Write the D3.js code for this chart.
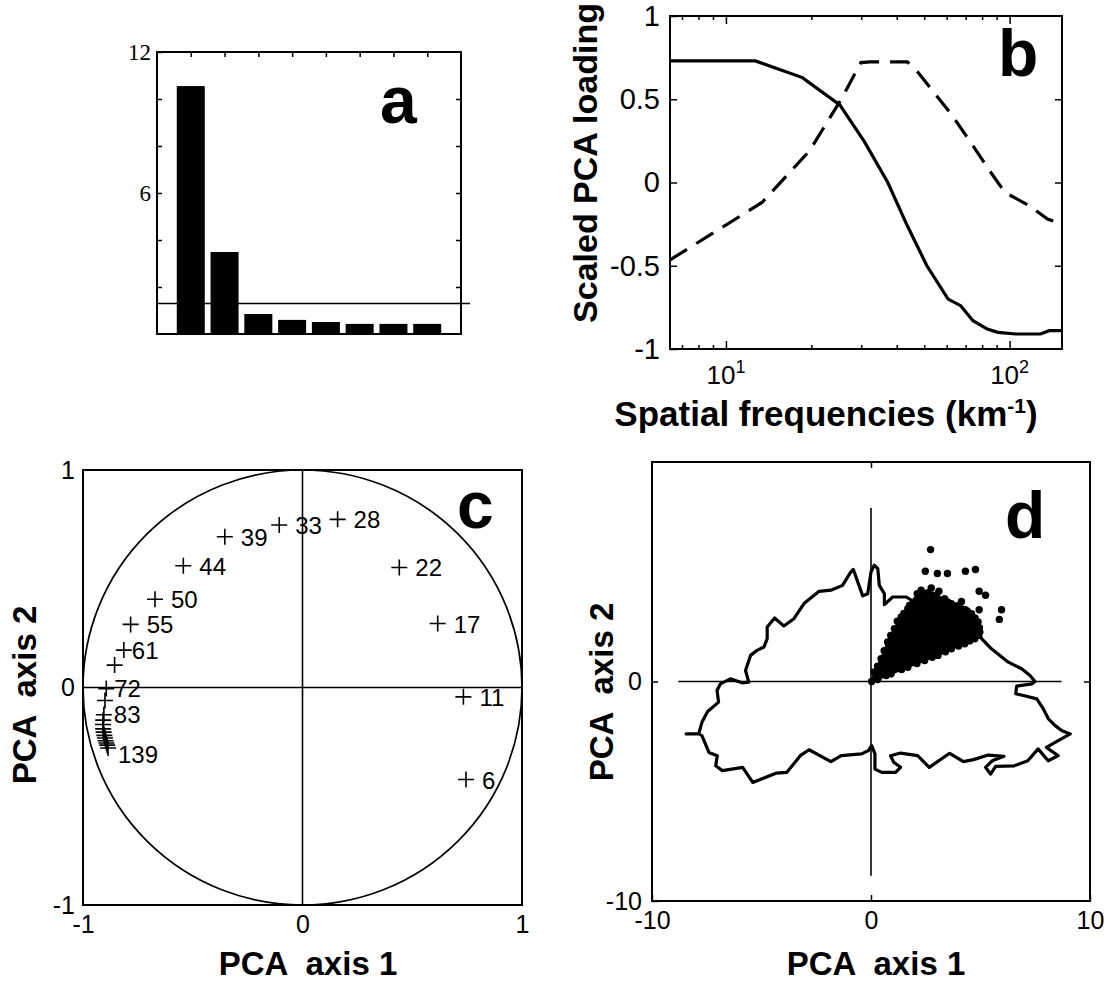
<!DOCTYPE html>
<html>
<head>
<meta charset="utf-8">
<script src="https://cdn.jsdelivr.net/npm/d3@7"></script>
<style>
  body { margin: 0; background: #fff; }
  svg { display: block; }
</style>
</head>
<body>
<script>
'use strict';

// ---- panel a: eigenvalues
const eigenvalues = [10.55, 3.49, 0.85, 0.6, 0.51, 0.43, 0.43, 0.43];
const eigenThreshold = 1.3;

// ---- panel b: PCA loadings vs spatial frequency
const freqSolid = [6.35, 12.7, 18.6, 25.2, 30.8, 37.2, 43.6, 51.1, 60.7, 67.2, 74.3, 83.4, 90.9, 105, 128.5, 138, 153];
const loadSolid = [0.73, 0.73, 0.63, 0.466, 0.244, 0.0, -0.26, -0.5, -0.7, -0.74, -0.83, -0.88, -0.9, -0.91, -0.91, -0.89, -0.89];
const freqDashed = [6.35, 13.4, 19.7, 25.5, 29.9, 32.2, 43.6, 47.6, 62.3, 74.3, 85.9, 96.3, 117.6, 136, 153];
const loadDashed = [-0.465, -0.12, 0.19, 0.5, 0.72, 0.725, 0.725, 0.66, 0.41, 0.22, 0.06, -0.06, -0.14, -0.22, -0.25];

// ---- panel c: correlation circle
const circleFreq = [6, 11, 17, 22, 28, 33, 39, 44, 50, 55, 61, 66, 72, 77, 83, 89, 94, 100, 105, 111, 116, 122, 128, 133, 139];
const circleShown = [6, 11, 17, 22, 28, 33, 39, 44, 50, 55, 61, 72, 83, 139];
const circleX = [0.745, 0.733, 0.616, 0.441, 0.16, -0.106, -0.354, -0.543, -0.672, -0.783, -0.814, -0.856, -0.894, -0.9, -0.905, -0.908, -0.909, -0.908, -0.906, -0.903, -0.9, -0.897, -0.893, -0.89, -0.886];
const circleY = [-0.423, -0.043, 0.294, 0.552, 0.773, 0.747, 0.693, 0.56, 0.406, 0.29, 0.172, 0.103, -0.005, -0.06, -0.125, -0.15, -0.17, -0.19, -0.205, -0.22, -0.232, -0.245, -0.255, -0.265, -0.278];

// ---- panel d: country outline and pixel scores
const outline = [
  [-8.44,-2.39],[-7.87,-2.39],[-7.72,-1.86],[-7.46,-1.37],[-6.96,-0.94],[-7.03,-0.41],[-6.88,-0.11],[-6.42,0.12],
  [-5.89,-0.06],[-5.58,-0.03],[-5.73,0.5],[-5.5,1.19],[-5.2,1.42],[-4.89,1.57],[-4.74,1.95],[-4.74,2.48],
  [-4.4,2.89],[-3.98,2.53],[-3.52,2.86],[-3.06,3.55],[-2.37,4.11],[-1.83,4.16],[-1.3,4.38],[-0.92,4.99],
  [-0.81,5.11],[-0.38,3.9],[-0.15,4.0],[0.0,4.99],[0.15,5.3],[0.31,5.14],[0.38,4.38],[0.61,4.0],
  [0.61,3.5],[0.99,3.85],[1.61,3.85],[1.99,3.62],[3.06,3.29],[3.98,3.09],[4.74,2.94],[5.05,1.95],
  [5.5,1.49],[6.27,0.88],[6.88,0.58],[7.26,0.27],[7.49,0.0],[7.34,-0.11],[6.65,-0.21],[6.61,-0.56],
  [6.96,-0.64],[7.57,-0.79],[7.87,-1.25],[8.1,-1.7],[8.41,-2.01],[8.72,-2.24],[9.1,-2.39],[8.55,-2.69],
  [8.01,-3.0],[8.55,-3.38],[8.09,-3.61],[7.63,-3.07],[7.16,-3.61],[6.54,-3.84],[5.69,-3.87],[5.46,-4.22],
  [5.23,-3.91],[5.54,-3.61],[6.07,-3.41],[5.35,-3.35],[4.68,-3.56],[4.22,-3.65],[3.59,-3.27],[2.66,-3.91],
  [2.13,-3.38],[1.35,-3.26],[0.89,-3.38],[1.04,-3.68],[1.35,-3.91],[1.12,-4.14],[0.49,-4.14],[0.18,-3.99],
  [0.18,-3.3],[0.03,-2.92],[-0.12,-3.15],[-0.43,-3.3],[-1.36,-3.38],[-1.83,-3.65],[-2.83,-3.11],[-3.23,-3.38],
  [-3.84,-4.14],[-4.31,-4.17],[-5.4,-4.6],[-5.86,-3.91],[-6.79,-4.06],[-7.09,-3.84],[-7.02,-3.38],[-7.4,-3.23],
  [-7.72,-2.47],[-7.84,-2.39]
];
const cloudCore = [
  [0.03,0.0],[0.15,0.43],[0.46,1.04],[0.76,1.8],[1.07,2.4],[1.38,2.94],[1.68,3.32],[2.06,3.7],
  [2.45,4.0],[2.83,3.93],[3.21,3.7],[3.67,3.55],[4.13,3.32],[4.59,3.09],[4.89,2.71],[4.97,2.25],
  [4.74,1.95],[4.28,1.72],[3.67,1.49],[3.06,1.19],[2.45,0.96],[1.68,0.65],[0.92,0.35],[0.31,0.09]
];
const cloudDots = [
  [2.72,6.01],[2.48,5.02],[3.03,4.92],[3.49,4.92],[4.31,5.02],[4.77,5.1],[4.94,4.11],[5.23,3.93],
  [5.96,3.27],[5.86,2.83],[4.94,3.27],[4.31,3.27],[4.13,3.65],[3.1,4.11],[2.75,4.26],[2.29,4.16],
  [2.11,4.0],[1.76,3.47],[3.36,3.77],[3.82,3.39],[1.2,2.75],[1.5,3.1],[1.9,3.55],[2.3,3.9],
  [2.6,4.05],[3.0,3.85],[3.5,3.62],[3.95,3.45],[4.4,3.2],[4.75,2.9],[4.95,2.45],[4.9,2.1],
  [4.5,1.85],[4.0,1.62],[3.4,1.35],[2.8,1.1],[2.1,0.82],[1.4,0.55],[0.7,0.27],[0.3,0.7],
  [0.6,1.4],[0.9,2.1]
];

const SANS = '"Liberation Sans", Arial, Helvetica, sans-serif';
const SERIF = '"Liberation Serif", "Times New Roman", serif';
const plain = d => String(d);   // keeps the ASCII hyphen of the original

const svg = d3.select('body').append('svg')
    .attr('width', 1117)
    .attr('height', 987);

function frame(x, y) {
    let xr = x.range(), yr = y.range();
    svg.append('rect')
        .attr('x', xr[0]).attr('y', yr[1])
        .attr('width', xr[1] - xr[0]).attr('height', yr[0] - yr[1])
        .attr('fill', 'none').attr('stroke', '#000').attr('stroke-width', 2);
}

function addAxis(axis, tx, ty, font, size) {
    let g = svg.append('g')
        .attr('transform', 'translate(' + tx + ',' + ty + ')')
        .call(axis);
    g.select('.domain').remove();
    g.selectAll('line').attr('stroke', '#000').attr('stroke-width', 1.5);
    g.selectAll('text').attr('font-family', font).attr('font-size', size).attr('fill', '#000');
    return g;
}

function panelLetter(t, x, y) {
    svg.append('text').attr('x', x).attr('y', y).text(t)
        .attr('font-family', SANS).attr('font-weight', 'bold').attr('font-size', 66);
}

function axisTitle(t, x, y, rotate) {
    let txt = svg.append('text')
        .attr('font-family', SANS).attr('font-weight', 'bold').attr('font-size', 33)
        .attr('text-anchor', 'middle')
        .style('white-space', 'pre');
    if (rotate) txt.attr('transform', 'translate(' + x + ',' + y + ') rotate(-90)');
    else txt.attr('x', x).attr('y', y);
    txt.text(t);
    return txt;
}

// =========== a
let xA = d3.scaleLinear().domain([0, 9]).range([157, 461]);
let yA = d3.scaleLinear().domain([0, 12]).range([334, 52]);

svg.append('g').selectAll('rect')
    .data(eigenvalues).enter()
    .append('rect')
    .attr('x', (d, i) => xA(i + 1) - 14)
    .attr('width', 28)
    .attr('y', d => yA(d))
    .attr('height', d => yA(0) - yA(d))
    .attr('fill', '#000');

addAxis(d3.axisLeft(yA).tickValues([2, 4, 6, 8, 10, 12]).tickSize(-5).tickPadding(6)
    .tickFormat(d => (d === 6 || d === 12) ? d : ''), 157, 0, SERIF, 23);
addAxis(d3.axisRight(yA).tickValues([2, 4, 6, 8, 10]).tickSize(-5).tickFormat(''), 461, 0, SERIF, 20);
addAxis(d3.axisTop(xA).tickValues(d3.range(1, 9)).tickSize(-5).tickFormat(''), 0, 52, SERIF, 20);

svg.append('line')
    .attr('x1', xA(0)).attr('x2', xA(0) + 313)
    .attr('y1', yA(eigenThreshold)).attr('y2', yA(eigenThreshold))
    .attr('stroke', '#000').attr('stroke-width', 1.5);
frame(xA, yA);
panelLetter('a', 380, 123);

// =========== b
let xB = d3.scaleLog().domain([6.35, 153]).range([670, 1062]);
let yB = d3.scaleLinear().domain([-1, 1]).range([349, 16]);
let minor = [7, 8, 9, 20, 30, 40, 50, 60, 70, 80, 90];

addAxis(d3.axisLeft(yB).tickValues([-1, -0.5, 0, 0.5, 1]).tickSize(-7).tickPadding(10)
    .tickFormat(plain), 670, 0, SANS, 29);
addAxis(d3.axisRight(yB).tickValues([-0.5, 0, 0.5]).tickSize(-7).tickFormat(''), 1062, 0, SANS, 20);
addAxis(d3.axisBottom(xB).tickValues([10, 100]).tickSize(-8).tickFormat(''), 0, 349, SANS, 20);
addAxis(d3.axisBottom(xB).tickValues(minor).tickSize(-4).tickFormat(''), 0, 349, SANS, 20);
addAxis(d3.axisTop(xB).tickValues([10, 100]).tickSize(-8).tickFormat(''), 0, 16, SANS, 20);
addAxis(d3.axisTop(xB).tickValues(minor).tickSize(-4).tickFormat(''), 0, 16, SANS, 20);

[10, 100].forEach(function (v) {
    let t = svg.append('text')
        .attr('x', xB(v)).attr('y', 384)
        .attr('text-anchor', 'middle')
        .attr('font-family', SANS).attr('font-size', 26);
    t.append('tspan').text('10');
    t.append('tspan').attr('dy', -11).attr('font-size', 18).text(Math.log10(v));
});

let lineB = d3.line().x(d => xB(d[0])).y(d => yB(d[1]));
svg.append('path')
    .attr('d', lineB(d3.zip(freqSolid, loadSolid)))
    .attr('fill', 'none').attr('stroke', '#000').attr('stroke-width', 3.2);
svg.append('path')
    .attr('d', lineB(d3.zip(freqDashed, loadDashed)))
    .attr('fill', 'none').attr('stroke', '#000').attr('stroke-width', 3.2)
    .attr('stroke-dasharray', '20,11');
frame(xB, yB);
panelLetter('b', 998, 76);

let tb = axisTitle('', 826, 426, false).attr('font-size', 35);
tb.append('tspan').text('Spatial frequencies (km');
tb.append('tspan').attr('dy', -13).attr('font-size', 21).text('-1');
tb.append('tspan').attr('dy', 13).text(')');
axisTitle('Scaled PCA loading', 597, 163, true).attr('font-size', 34);

// =========== c
let xC = d3.scaleLinear().domain([-1, 1]).range([83, 522]);
let yC = d3.scaleLinear().domain([-1, 1]).range([905, 470]);

svg.append('ellipse')
    .attr('cx', xC(0)).attr('cy', yC(0))
    .attr('rx', xC(1) - xC(0)).attr('ry', yC(0) - yC(1))
    .attr('fill', 'none').attr('stroke', '#000').attr('stroke-width', 1.7);
svg.append('line').attr('x1', xC(-1)).attr('x2', xC(1)).attr('y1', yC(0)).attr('y2', yC(0))
    .attr('stroke', '#000').attr('stroke-width', 1.6);
svg.append('line').attr('x1', xC(0)).attr('x2', xC(0)).attr('y1', yC(-1)).attr('y2', yC(1))
    .attr('stroke', '#000').attr('stroke-width', 1.6);

let circlePts = circleFreq.map((f, i) => ({ f: f, x: circleX[i], y: circleY[i] }));
svg.append('g').selectAll('path')
    .data(circlePts).enter()
    .append('path')
    .attr('transform', d => 'translate(' + xC(d.x) + ',' + yC(d.y) + ')')
    .attr('d', 'M-8,0H8M0,-8V8')
    .attr('stroke', '#000').attr('stroke-width', 1.6);

let nudge = { 61: [8, 9], 72: [8, 8], 83: [10, 8], 139: [10, 15] };
svg.append('g').selectAll('text')
    .data(circlePts.filter(d => circleShown.indexOf(d.f) >= 0)).enter()
    .append('text')
    .attr('x', d => xC(d.x) + (nudge[d.f] ? nudge[d.f][0] : 16))
    .attr('y', d => yC(d.y) + (nudge[d.f] ? nudge[d.f][1] : 9))
    .attr('font-family', SANS).attr('font-size', 24)
    .text(d => d.f);

frame(xC, yC);
addAxis(d3.axisLeft(yC).tickValues([-1, 0, 1]).tickSize(0).tickPadding(8).tickFormat(plain), 83, 0, SANS, 25);
addAxis(d3.axisBottom(xC).tickValues([-1, 0, 1]).tickSize(0).tickPadding(10).tickFormat(plain), 0, 905, SANS, 25);
panelLetter('c', 457, 528);
axisTitle('PCA  axis 1', 308, 975, false);
axisTitle('PCA  axis 2', 36, 695, true);

// =========== d
let xD = d3.scaleLinear().domain([-10, 10]).range([652, 1090]);
let yD = d3.scaleLinear().domain([-10, 10]).range([901, 462]);

svg.append('line').attr('x1', xD(-8.8)).attr('x2', xD(8.7)).attr('y1', yD(0)).attr('y2', yD(0))
    .attr('stroke', '#000').attr('stroke-width', 1.6);
svg.append('line').attr('x1', xD(0)).attr('x2', xD(0)).attr('y1', yD(-8.85)).attr('y2', yD(7.9))
    .attr('stroke', '#000').attr('stroke-width', 1.6);

let lineD = d3.line().x(d => xD(d[0])).y(d => yD(d[1])).curve(d3.curveLinearClosed);
svg.append('path')
    .attr('d', lineD(outline))
    .attr('fill', 'none').attr('stroke', '#000').attr('stroke-width', 3.2)
    .attr('stroke-linejoin', 'round');

svg.append('path')
    .attr('d', lineD(cloudCore))
    .attr('fill', '#000').attr('stroke', '#000').attr('stroke-width', 2);
svg.append('g').selectAll('circle')
    .data(cloudCore.concat(cloudDots)).enter()
    .append('circle')
    .attr('cx', d => xD(d[0])).attr('cy', d => yD(d[1]))
    .attr('r', 3.7).attr('fill', '#000');

frame(xD, yD);
addAxis(d3.axisLeft(yD).tickValues([-10, 0]).tickSize(-6).tickPadding(10).tickFormat(plain), 652, 0, SANS, 25);
addAxis(d3.axisRight(yD).tickValues([0]).tickSize(-6).tickFormat(''), 1090, 0, SANS, 24);
addAxis(d3.axisBottom(xD).tickValues([-10, 0, 10]).tickSize(-6).tickPadding(10).tickFormat(plain), 0, 901, SANS, 25);
addAxis(d3.axisTop(xD).tickValues([0]).tickSize(-6).tickFormat(''), 0, 462, SANS, 24);
panelLetter('d', 1005, 538);
axisTitle('PCA  axis 1', 876, 975, false);
axisTitle('PCA  axis 2', 613, 692, true);

</script>
</body>
</html>
